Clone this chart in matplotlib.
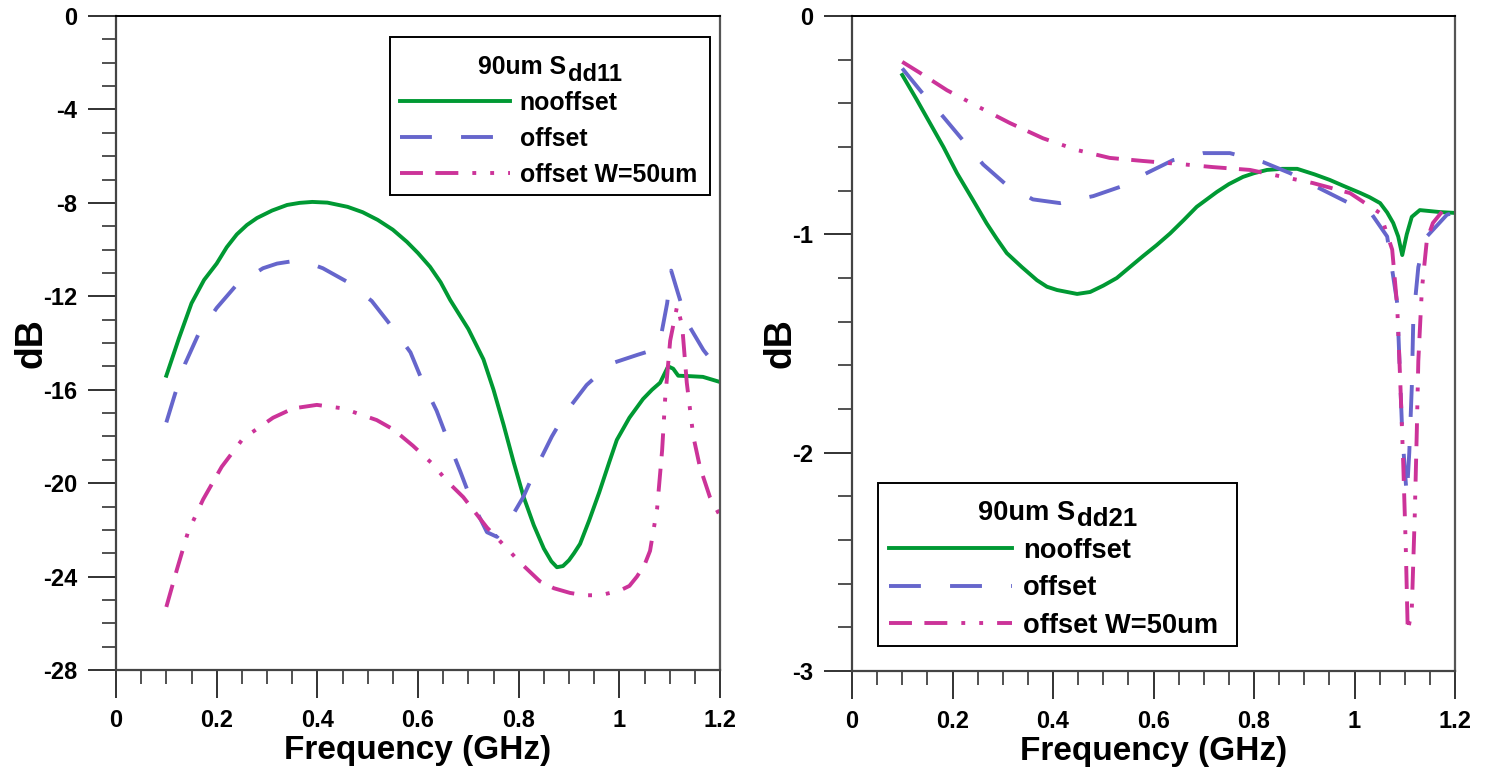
import matplotlib
matplotlib.use('Agg')
import matplotlib.pyplot as plt
from matplotlib.ticker import MultipleLocator, FuncFormatter
from matplotlib.transforms import IdentityTransform
from matplotlib.patches import Rectangle

# ---------------- data: Sdd11 (left) ----------------
f11_nooffset = [0.1, 0.125, 0.15, 0.175, 0.2, 0.22, 0.24, 0.26, 0.28, 0.31, 0.34, 0.365, 0.39,
                0.42, 0.46, 0.49, 0.52, 0.55, 0.578, 0.6, 0.624, 0.645, 0.664, 0.70, 0.73, 0.75,
                0.77, 0.79, 0.81, 0.83, 0.85, 0.865, 0.876, 0.888, 0.9, 0.91, 0.922, 0.94, 0.96,
                0.98, 0.995, 1.02, 1.047, 1.065, 1.081, 1.097, 1.107, 1.117, 1.14, 1.166, 1.2]
s11_nooffset = [-15.4, -13.8, -12.3, -11.3, -10.6, -9.9, -9.35, -8.95, -8.65, -8.33, -8.09,
                -8.0, -7.96, -7.99, -8.17, -8.4, -8.73, -9.15, -9.67, -10.15, -10.74, -11.4,
                -12.16, -13.4, -14.7, -16.0, -17.5, -19.1, -20.6, -21.8, -22.8, -23.35, -23.6,
                -23.55, -23.3, -23.0, -22.6, -21.6, -20.4, -19.1, -18.15, -17.2, -16.4, -16.0,
                -15.7, -15.0, -15.1, -15.4, -15.42, -15.45, -15.67]

f11_offset = [0.1, 0.117, 0.137, 0.163, 0.2, 0.24, 0.292, 0.32, 0.35, 0.38, 0.411, 0.461, 0.508,
              0.548, 0.585, 0.61, 0.637, 0.66, 0.684, 0.707, 0.737, 0.757, 0.779, 0.809, 0.836,
              0.866, 0.896, 0.935, 0.981, 1.037, 1.067, 1.081, 1.095, 1.103, 1.117, 1.134,
              1.167, 1.2]
s11_offset = [-17.4, -16.2, -14.9, -13.66, -12.5, -11.5, -10.8, -10.6, -10.5, -10.55, -10.8,
              -11.4, -12.2, -13.3, -14.4, -15.7, -16.9, -18.2, -19.5, -20.8, -22.1, -22.3,
              -21.7, -20.6, -19.3, -18.0, -16.9, -15.8, -14.9, -14.5, -14.3, -13.9, -12.3,
              -10.9, -11.9, -13.1, -14.3, -15.2]

f11_w50 = [0.1, 0.121, 0.143, 0.173, 0.21, 0.252, 0.312, 0.352, 0.399, 0.451, 0.518, 0.551, 0.59,
           0.63, 0.657, 0.69, 0.737, 0.777, 0.803, 0.842, 0.87, 0.902, 0.93, 0.962, 1.001, 1.02,
           1.035, 1.05, 1.061, 1.075, 1.085, 1.091, 1.101, 1.115, 1.125, 1.134, 1.147, 1.16,
           1.18, 1.2]
s11_w50 = [-25.3, -23.7, -22.1, -20.7, -19.3, -18.1, -17.2, -16.8, -16.65, -16.8, -17.3, -17.7,
           -18.4, -19.2, -19.9, -20.6, -21.9, -22.8, -23.4, -24.2, -24.5, -24.7, -24.8, -24.8,
           -24.6, -24.4, -24.0, -23.5, -22.9, -21.1, -18.6, -16.4, -13.9, -12.4, -13.3, -15.7,
           -18.0, -19.3, -20.6, -21.4]

# ---------------- data: Sdd21 (right) ----------------
f21_nooffset = [0.1, 0.128, 0.155, 0.182, 0.209, 0.24, 0.268, 0.288, 0.308, 0.338, 0.368, 0.388,
                0.408, 0.448, 0.474, 0.5, 0.527, 0.553, 0.579, 0.606, 0.633, 0.66, 0.686, 0.706,
                0.726, 0.75, 0.778, 0.8, 0.826, 0.856, 0.886, 0.92, 0.951, 0.98, 1.011, 1.03,
                1.051, 1.065, 1.077, 1.087, 1.095, 1.104, 1.114, 1.13, 1.17, 1.2]
s21_nooffset = [-0.27, -0.38, -0.49, -0.6, -0.72, -0.84, -0.95, -1.02, -1.086, -1.15, -1.21,
                -1.24, -1.255, -1.273, -1.264, -1.235, -1.2, -1.15, -1.10, -1.05, -0.996, -0.935,
                -0.874, -0.84, -0.806, -0.77, -0.737, -0.72, -0.705, -0.70, -0.70, -0.725, -0.751,
                -0.78, -0.81, -0.83, -0.857, -0.9, -0.948, -1.01, -1.095, -1.0, -0.92, -0.889,
                -0.898, -0.902]

f21_offset = [0.1, 0.139, 0.181, 0.221, 0.261, 0.308, 0.36, 0.414, 0.48, 0.533, 0.587, 0.639,
              0.699, 0.752, 0.818, 0.872, 0.925, 0.977, 1.035, 1.065, 1.085, 1.095, 1.104, 1.109,
              1.114, 1.117, 1.127, 1.14, 1.184, 1.2]
s21_offset = [-0.24, -0.35, -0.46, -0.57, -0.68, -0.775, -0.84, -0.857, -0.825, -0.783, -0.719,
              -0.66, -0.628, -0.628, -0.669, -0.72, -0.783, -0.843, -0.91, -1.01, -1.315, -1.91,
              -2.20, -2.0, -1.70, -1.39, -1.15, -1.02, -0.91, -0.90]

f21_w50 = [0.1, 0.135, 0.189, 0.255, 0.314, 0.38, 0.448, 0.513, 0.579, 0.653, 0.718, 0.792, 0.858,
           0.917, 0.991, 1.051, 1.075, 1.085, 1.091, 1.097, 1.102, 1.106, 1.114, 1.12, 1.124,
           1.127, 1.134, 1.144, 1.156, 1.18]
s21_w50 = [-0.21, -0.26, -0.34, -0.42, -0.49, -0.56, -0.614, -0.65, -0.664, -0.678, -0.692,
           -0.705, -0.737, -0.765, -0.811, -0.903, -1.07, -1.33, -1.67, -2.05, -2.43, -2.82,
           -2.72, -2.28, -1.9, -1.58, -1.255, -1.026, -0.948, -0.88]

labels = ['nooffset', 'offset', 'offset W=50um']
titles_main = ['90um S', '90um S']
titles_sub = ['dd11', 'dd21']
# ---------------------------------------------------

plt.rcParams['font.family'] = ['Liberation Sans', 'DejaVu Sans']
plt.rcParams['font.weight'] = 'bold'

GREEN = '#009933'
BLUE = '#6666CC'
MAGENTA = '#CC3399'
LW = 2.8
STY_BLUE = (0, (8.2, 7.5))
STY_MAG = (0, (5.9, 3.2, 5.9, 3.6, 1.0, 3.6, 1.0, 3.6))

fig = plt.figure(figsize=(14.93, 7.74), dpi=100)
ax1 = fig.add_axes([116 / 1493, 1 - 670 / 774, 604 / 1493, 654 / 774])
ax2 = fig.add_axes([852 / 1493, 1 - 671 / 774, 603 / 1493, 655 / 774])

fmt = FuncFormatter(lambda v, p: '%g' % (round(v, 6) + 0.0))


def style(ax, ymaj, ymin):
    ax.set_xlim(0, 1.2)
    ax.xaxis.set_major_locator(MultipleLocator(0.2))
    ax.xaxis.set_minor_locator(MultipleLocator(0.05))
    ax.yaxis.set_major_locator(MultipleLocator(ymaj))
    ax.yaxis.set_minor_locator(MultipleLocator(ymin))
    ax.xaxis.set_major_formatter(fmt)
    ax.yaxis.set_major_formatter(fmt)
    ax.tick_params(which='major', direction='out', length=20, width=1.3, labelsize=17, pad=8,
                   color='#222222')
    ax.tick_params(which='minor', direction='out', length=10, width=1.1, color='#222222')
    for lab in ax.get_xticklabels() + ax.get_yticklabels():
        lab.set_fontweight('bold')
    for s in ['left', 'bottom']:
        ax.spines[s].set_linewidth(1.6)
        ax.spines[s].set_color('#444444')
    ax.spines['top'].set_linewidth(1.4)
    ax.spines['top'].set_color('black')
    ax.spines['right'].set_linewidth(1.6)
    ax.spines['right'].set_color('#555555')
    ax.set_xlabel('Frequency (GHz)', fontsize=24, fontweight='bold', labelpad=2)
    ax.set_ylabel('dB', fontsize=27, fontweight='bold', labelpad=-5)


# Left panel
ax1.plot(f11_nooffset, s11_nooffset, color=GREEN, lw=LW, label=labels[0])
ax1.plot(f11_offset, s11_offset, color=BLUE, lw=LW, linestyle=STY_BLUE, label=labels[1])
ax1.plot(f11_w50, s11_w50, color=MAGENTA, lw=LW, linestyle=STY_MAG, label=labels[2])
ax1.set_ylim(-28, 0)
style(ax1, 4, 1)

# Right panel
ax2.plot(f21_nooffset, s21_nooffset, color=GREEN, lw=LW, label=labels[0])
ax2.plot(f21_offset, s21_offset, color=BLUE, lw=LW, linestyle=STY_BLUE, label=labels[1])
ax2.plot(f21_w50, s21_w50, color=MAGENTA, lw=LW, linestyle=STY_MAG, label=labels[2])
ax2.set_ylim(-3, 0)
style(ax2, 1, 0.2)

# legend layout (axes fractions): frame box, title baseline, first-row centre, handle start
legend_specs = [
    dict(ax=ax1, fs=17.9, frame=(0.4536, 0.7263, 0.9834, 0.9679), title_base=0.9110,
         row0=0.8677, hx=0.4702, hl=4.42, ls=0.49, tmain=titles_main[0], tsub=titles_sub[0],
         sub_fs=17.0, sub_drop=7),
    dict(ax=ax2, fs=19.6, frame=(0.0431, 0.0382, 0.6385, 0.2870), title_base=0.2305,
         row0=0.1838, hx=0.0614, hl=4.52, ls=0.425, tmain=titles_main[1], tsub=titles_sub[1],
         sub_fs=18.6, sub_drop=6),
]

legends = []
for sp in legend_specs:
    ax = sp['ax']
    x0, y0, x1, y1 = sp['frame']
    ax.add_patch(Rectangle((x0, y0), x1 - x0, y1 - y0, transform=ax.transAxes, clip_on=False,
                           facecolor='white', edgecolor='black', lw=1.4, zorder=4.5))
    leg = ax.legend(loc='upper left', bbox_to_anchor=(sp['hx'], sp['row0'] + 0.03),
                    fontsize=sp['fs'], frameon=False, borderaxespad=0, borderpad=0,
                    handlelength=sp['hl'], handletextpad=0.4, labelspacing=sp['ls'])
    leg.set_zorder(6)
    for t in leg.get_texts():
        t.set_fontweight('bold')
    legends.append(leg)

fig.canvas.draw()
r = fig.canvas.get_renderer()
for sp, leg in zip(legend_specs, legends):
    ax = sp['ax']
    axh = ax.get_window_extent(r).height
    tb = leg.get_texts()[0].get_window_extent(r)
    target = ax.transAxes.transform((0, sp['row0']))[1]
    dy = (target - 0.5 * (tb.y0 + tb.y1)) / axh
    leg.set_bbox_to_anchor((sp['hx'], sp['row0'] + 0.03 + dy), transform=ax.transAxes)

    # title with a large subscript, centred over the frame
    x0, y0, x1, y1 = sp['frame']
    cx, base = ax.transAxes.transform((0.5 * (x0 + x1), sp['title_base']))
    m = fig.text(0, 0, sp['tmain'], fontsize=sp['fs'], fontweight='bold',
                 transform=IdentityTransform(), va='baseline', ha='left', zorder=7)
    s = fig.text(0, 0, sp['tsub'], fontsize=sp['sub_fs'], fontweight='bold',
                 transform=IdentityTransform(), va='baseline', ha='left', zorder=7)
    wm = m.get_window_extent(r).width
    ws = s.get_window_extent(r).width
    xs = cx - 0.5 * (wm + ws + 1)
    m.set_position((xs, base))
    s.set_position((xs + wm + 1, base - sp['sub_drop']))

fig.savefig('out.png', dpi=100, facecolor='white')
